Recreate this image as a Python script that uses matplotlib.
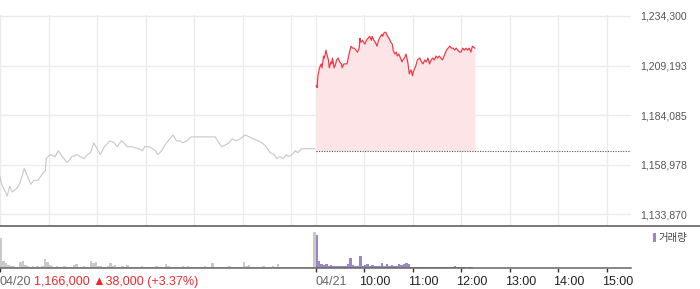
import numpy as np
import matplotlib
matplotlib.use('Agg')
import matplotlib.pyplot as plt
from matplotlib.lines import Line2D
from matplotlib.patches import Rectangle
from matplotlib.transforms import offset_copy

plt.rcParams['font.family'] = ['Liberation Sans', 'DejaVu Sans']

# minutes from 04/20 09:00 (04/21 09:00 = 390)
prev_min = [0, 2, 9, 12, 15, 21, 25, 30, 33, 38,
            42, 47, 52, 56, 57, 62, 68, 72, 77, 83,
            89, 95, 99, 104, 108, 112, 116, 120, 124, 129,
            136, 141, 145, 150, 153, 157, 163, 171, 176, 179,
            185, 192, 195, 200, 204, 210, 214, 218, 222, 226,
            231, 236, 242, 247, 253, 260, 266, 269, 274, 279,
            283, 287, 292, 297, 303, 308, 313, 319, 324, 329,
            334, 339, 342, 346, 350, 354, 357, 361, 365, 368,
            373, 381, 389]
# price, thousand won
prev_price = [1153, 1149, 1143, 1148, 1145, 1147, 1150, 1157, 1154, 1149,
              1151, 1151, 1154, 1156, 1162, 1164, 1163, 1166, 1163, 1160,
              1163, 1164, 1163, 1162, 1164, 1165, 1170, 1167, 1164, 1168,
              1171, 1170, 1168, 1171, 1170, 1168, 1168, 1167, 1166, 1168,
              1168, 1166, 1164, 1166, 1169, 1172, 1174, 1171, 1171, 1170,
              1171, 1173, 1173, 1173, 1173, 1173, 1173, 1171, 1168, 1169,
              1170, 1172, 1171, 1172, 1174, 1173, 1172, 1171, 1170, 1168,
              1165, 1164, 1162, 1163, 1162, 1164, 1163, 1164, 1166, 1165,
              1167, 1167, 1167]

# minutes from 04/21 09:00
today_min = [1, 2, 3, 5, 7, 8, 10, 11, 13, 14,
             16, 17, 19, 20, 21, 23, 25, 26, 28, 30,
             32, 33, 35, 37, 39, 41, 42, 44, 46, 48,
             50, 52, 54, 55, 56, 58, 61, 63, 65, 67,
             69, 70, 72, 74, 76, 78, 79, 82, 83, 85,
             87, 89, 91, 93, 95, 96, 98, 100, 101, 103,
             105, 107, 108, 110, 112, 114, 116, 118, 120, 121,
             123, 124, 126, 129, 131, 133, 135, 137, 139, 141,
             143, 145, 147, 149, 151, 153, 155, 157, 160, 162,
             164, 166, 168, 170, 172, 174, 176, 178, 180, 182,
             184, 186, 188, 190, 192, 194, 197]
today_price = [1199, 1198, 1204, 1208, 1210, 1208, 1214, 1213, 1217, 1215,
               1212, 1208, 1211, 1210, 1213, 1208, 1210, 1212, 1213, 1211,
               1210, 1208, 1210, 1210, 1210, 1214, 1216, 1219, 1218, 1218,
               1217, 1216, 1218, 1223, 1221, 1222, 1220, 1222, 1223, 1224,
               1222, 1224, 1222, 1221, 1219, 1222, 1223, 1225, 1224, 1226,
               1226, 1224, 1223, 1221, 1220, 1217, 1215, 1216, 1214, 1215,
               1213, 1211, 1212, 1213, 1215, 1211, 1205, 1207, 1204, 1206,
               1208, 1209, 1212, 1213, 1211, 1210, 1212, 1211, 1213, 1210,
               1212, 1213, 1212, 1214, 1213, 1214, 1213, 1212, 1215, 1217,
               1218, 1219, 1218, 1218, 1217, 1218, 1217, 1216, 1216, 1218,
               1217, 1218, 1217, 1218, 1216, 1219, 1218]

prev_close = 1166000
y_ticks = [1133870, 1158978, 1184085, 1209193, 1234300]

# volume in 3-minute bins
prev_vol = [3000, 750, 500, 300, 220, 200, 160, 180, 600, 770,
            300, 220, 180, 200, 160, 220, 180, 200, 970, 600,
            300, 220, 180, 200, 160, 170, 200, 150, 180, 160,
            330, 400, 180, 160, 200, 170, 180, 700, 500, 600,
            250, 200, 180, 160, 200, 570, 200, 300, 180, 160,
            200, 170, 300, 160, 180, 150, 170, 160, 200, 150,
            170, 160, 180, 150, 200, 160, 170, 180, 400, 250,
            160, 180, 150, 170, 160, 200, 150, 220, 160, 170,
            150, 180, 160, 170, 200, 160, 180, 500, 160, 150,
            170, 180, 160, 150, 200, 170, 160, 180, 150, 170,
            600, 200, 300, 170, 160, 180, 150, 170, 200, 160,
            170, 180, 200, 170, 400, 180, 160, 170, 150, 160,
            180, 170, 160, 150, 170, 160, 180, 170, 160, 3600]
today_vol = [3300, 700, 400, 350, 400, 250, 300, 250, 250, 200,
             250, 200, 250, 400, 1000, 300, 250, 250, 1200, 250,
             300, 400, 250, 300, 250, 250, 250, 500, 250, 400,
             250, 300, 250, 200, 400, 300, 400, 500, 400, 150,
             100, 100, 120, 100, 150, 100, 120, 100, 100, 150,
             100, 100, 120, 100, 100, 100, 120, 200, 100, 120,
             100, 100, 80, 100, 100, 80]

hour_ticks = [450, 510, 570, 630, 690, 750]
hour_labels = ['10:00', '11:00', '12:00', '13:00', '14:00', '15:00']
grid_ticks = [0, 60, 120, 180, 240, 300, 360, 390] + hour_ticks

W, H = 700, 289
fig = plt.figure(figsize=(W / 100, H / 100), dpi=100)

# main price panel
ax = fig.add_axes([0, 1 - 225.7 / H, 631 / W, 210.7 / H])
for s in ax.spines.values():
    s.set_visible(False)
ax.set_xlim(0, 780)
ax.set_ylim(1127960, 1234805)
ax.set_xticks(grid_ticks)
ax.set_yticks(y_ticks)
ax.grid(True, color='#ebebeb', lw=1)
ax.tick_params(axis='x', length=0, labelbottom=False)
ax.yaxis.tick_right()
ax.tick_params(axis='y', length=0, pad=6.5, labelsize=7.6, labelcolor='#555555')
ax.set_yticklabels([f'{v:,}' for v in y_ticks])

pm = np.array(prev_min)
pp = np.array(prev_price) * 1000
tm = np.array(today_min) + 390
tp = np.array(today_price) * 1000

ax.plot(pm, pp, color='#c6c7cc', lw=0.8, zorder=3)
ax.fill_between(tm, tp, prev_close, color='#fde5e7', lw=0, zorder=2)
ax.plot(tm, tp, color='#f5333f', lw=0.85, zorder=4)
ax.plot([390, 780], [prev_close, prev_close], color='#555555', lw=0.8,
        ls=(0, (1, 1.3)), zorder=3)

fig.add_artist(Line2D([0, 1], [1 - 225.7 / H] * 2, color='#555555', lw=1.1))

# volume panel
vax = fig.add_axes([0, 1 - 268.3 / H, 631 / W, 41.8 / H])
for k in ['top', 'right', 'left']:
    vax.spines[k].set_visible(False)
vax.spines['bottom'].set_color('#666666')
vax.spines['bottom'].set_linewidth(1.1)
vax.set_xlim(0, 780)
vax.set_ylim(0, 4180)
vax.set_yticks([])
vb_prev = np.arange(len(prev_vol)) * 3
vb_today = np.arange(len(today_vol)) * 3 + 390
vax.bar(vb_prev, prev_vol, width=3, align='edge', color='#c9c9c9', lw=0)
vax.bar(vb_today, today_vol, width=3, align='edge', color='#9d86c6', lw=0)
vax.set_xticks([0, 390] + hour_ticks)
vax.tick_params(axis='x', direction='out', length=3, width=1, color='#333333',
                labelbottom=False)

tr = vax.get_xaxis_transform()
lab_y = -0.33
vax.text(0, lab_y, '04/20', transform=tr, ha='left', va='center',
         fontsize=9, color='#666666')
vax.text(390, lab_y, '04/21', transform=tr, ha='left', va='center',
         fontsize=9, color='#666666')
tr_shift = offset_copy(tr, fig=fig, x=-5, y=0, units='dots')
for m, lab in zip(hour_ticks, hour_labels):
    vax.text(m, lab_y, lab, transform=tr_shift, ha='left', va='center',
             fontsize=9, color='#222222')

fig.text(34 / W, 1 - 282 / H, '1,166,000 \u25b238,000 (+3.37%)', ha='left',
         va='center', fontsize=9, color='#f0282d')

# legend
fig.add_artist(Rectangle((653 / W, 1 - 242 / H), 3 / W, 9 / H,
                         transform=fig.transFigure, color='#9d86c6', lw=0))
fig.text(658 / W, 1 - 237.5 / H, '거래량', ha='left', va='center', fontsize=7.5,
         color='#444444', family=['Noto Sans CJK KR', 'DejaVu Sans'])

fig.savefig('out.png', dpi=100)
